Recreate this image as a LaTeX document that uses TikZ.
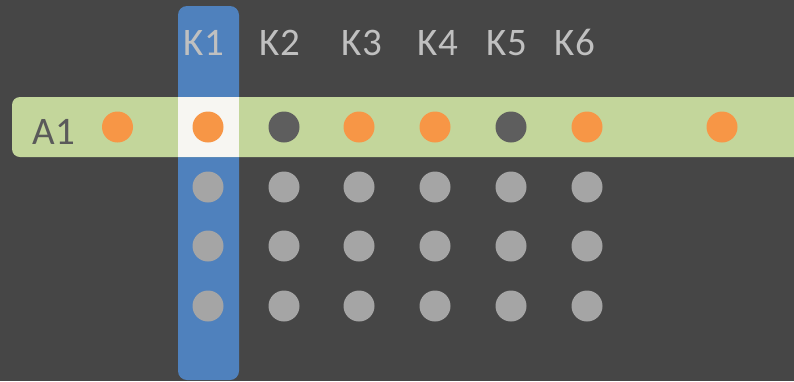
\documentclass[tikz,border=0pt]{standalone}
\usepackage{fontspec}
\setmainfont{Carlito}
\definecolor{bg}{HTML}{464646}
\definecolor{colblue}{HTML}{4F81BD}
\definecolor{rowgreen}{HTML}{C3D69B}
\definecolor{cross}{HTML}{F7F6F2}
\definecolor{dorange}{HTML}{F79646}
\definecolor{ddark}{HTML}{5E5E5E}
\definecolor{dgray}{HTML}{A5A5A5}
\definecolor{klabel}{HTML}{C0C0C0}
\definecolor{alabel}{HTML}{5A5A5A}
\begin{document}
\begin{tikzpicture}[x=1pt,y=-1pt,
  dot/.style={circle,minimum size=31pt,inner sep=0pt},
  odot/.style={dot,fill=dorange},
  kdot/.style={dot,fill=ddark},
  gdot/.style={dot,fill=dgray},
  klab/.style={anchor=base,text=klabel,font=\fontsize{39}{42}\selectfont,inner sep=0pt},
  alab/.style={anchor=base,text=alabel,font=\fontsize{39}{42}\selectfont,inner sep=0pt}]
\useasboundingbox (0,0) rectangle (794,381);
\clip (0,0) rectangle (794,381);
\fill[bg] (0,0) rectangle (794,381);
% blue column
\fill[colblue,rounded corners=9pt] (178,6) rectangle (239,380);
% green row
\fill[rowgreen,rounded corners=8pt] (12,97) rectangle (810,157);
% crossing
\fill[cross] (178,97) rectangle (239,157);
% labels
\node[klab] (k1) at (204,55) {K1};
\node[klab] (k2) at (280,55) {K2};
\node[klab] (k3) at (362,55) {K3};
\node[klab] (k4) at (438,55) {K4};
\node[klab] (k5) at (507,55) {K5};
\node[klab] (k6) at (575,55) {K6};
\node[alab] (a1) at (54,144) {A1};
% row A1
\node[odot] (r0) at (117.5,127) {};
\node[odot] (r1) at (208,127) {};
\node[kdot] (r2) at (284,127) {};
\node[odot] (r3) at (359,127) {};
\node[odot] (r4) at (435,127) {};
\node[kdot] (r5) at (511,127) {};
\node[odot] (r6) at (587,127) {};
\node[odot] (r7) at (722,127) {};
% grey grid
\foreach \r/\y in {a/187,b/246,c/306}{
  \foreach \c/\x in {1/208,2/284,3/359,4/435,5/511,6/587}{
    \node[gdot] (g\r\c) at (\x,\y) {};
  }
}
\end{tikzpicture}
\end{document}
